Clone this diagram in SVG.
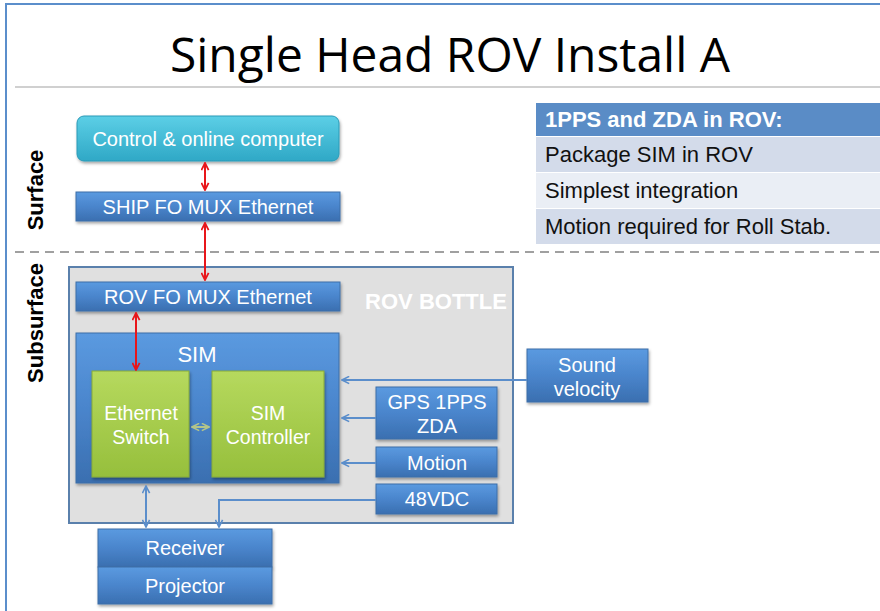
<svg xmlns="http://www.w3.org/2000/svg" width="880" height="611" viewBox="0 0 880 611">
<defs>
<linearGradient id="gBlue" x1="0" y1="0" x2="0" y2="1">
<stop offset="0" stop-color="#5b9ae0"/><stop offset="0.5" stop-color="#4a85cc"/><stop offset="1" stop-color="#3a6fb0"/>
</linearGradient>
<linearGradient id="gTeal" x1="0" y1="0" x2="0" y2="1">
<stop offset="0" stop-color="#5ccfe6"/><stop offset="1" stop-color="#2fa8c6"/>
</linearGradient>
<linearGradient id="gGreen" x1="0" y1="0" x2="0" y2="1">
<stop offset="0" stop-color="#b6d95e"/><stop offset="1" stop-color="#96bf3c"/>
</linearGradient>
<filter id="sh" x="-10%" y="-10%" width="120%" height="130%">
<feDropShadow dx="1" dy="2" stdDeviation="1.5" flood-color="#000" flood-opacity="0.35"/>
</filter>
<marker id="aRed" viewBox="0 0 10 10" refX="9" refY="5" markerWidth="9" markerHeight="9" orient="auto-start-reverse" markerUnits="userSpaceOnUse">
<path d="M1,1 L9,5 L1,9" fill="none" stroke="#e8161b" stroke-width="2"/>
</marker>
<marker id="aBlue" viewBox="0 0 10 10" refX="9" refY="5" markerWidth="9" markerHeight="9" orient="auto-start-reverse" markerUnits="userSpaceOnUse">
<path d="M1,1 L9,5 L1,9" fill="none" stroke="#5b8ecb" stroke-width="1.8"/>
</marker>
<marker id="aGreen" viewBox="0 0 10 10" refX="9" refY="5" markerWidth="9" markerHeight="9" orient="auto-start-reverse" markerUnits="userSpaceOnUse">
<path d="M1,1 L9,5 L1,9" fill="none" stroke="#b3c48a" stroke-width="1.8"/>
</marker>
</defs>
<style>
.box{fill:url(#gBlue);stroke:#3c6ea8;stroke-width:1;filter:url(#sh)}
.grn{fill:url(#gGreen);stroke:#88ab38;stroke-width:1;filter:url(#sh)}
.lbl{font-family:"Liberation Sans",Arial,sans-serif;fill:#fff;text-anchor:middle;dominant-baseline:central;font-size:20px}
.tt{font-family:"Liberation Sans",Arial,sans-serif;font-size:22px;fill:#111}
.side{font-family:"Liberation Sans",Arial,sans-serif;font-size:22px;font-weight:bold;fill:#000;text-anchor:middle;dominant-baseline:central}
.red{stroke:#e8161b;stroke-width:2;fill:none;marker-start:url(#aRed);marker-end:url(#aRed)}
.bl{stroke:#5b8ecb;stroke-width:2;fill:none}
</style>
<rect width="880" height="611" fill="#fff"/>
<path d="M6,611 V4 H880" fill="none" stroke="#5b8ecb" stroke-width="2"/>
<text x="450" y="72" font-family="'Open Sans','Noto Sans',sans-serif" font-size="48" text-anchor="middle" textLength="560" lengthAdjust="spacingAndGlyphs" fill="#000">Single Head ROV Install A</text>
<line x1="15" y1="87" x2="880" y2="87" stroke="#d0d0d0" stroke-width="2"/>
<line x1="15" y1="252" x2="880" y2="252" stroke="#a0a0a0" stroke-width="2" stroke-dasharray="9,6"/>
<text class="side" transform="translate(35,190) rotate(-90)">Surface</text>
<text class="side" transform="translate(35,323) rotate(-90)">Subsurface</text>

<g id="table">
<rect x="536" y="103" width="344" height="33" fill="#5a8cc6"/>
<text x="545" y="127" font-family="'Liberation Sans',Arial,sans-serif" font-size="22" font-weight="bold" fill="#fff">1PPS and ZDA in ROV:</text>
<rect x="536" y="137" width="344" height="35" fill="#d3dbea"/>
<text class="tt" x="545" y="162">Package SIM in ROV</text>
<rect x="536" y="173" width="344" height="35" fill="#eaeef5"/>
<text class="tt" x="545" y="198">Simplest integration</text>
<rect x="536" y="209" width="344" height="35" fill="#d3dbea"/>
<text class="tt" x="545" y="234">Motion required for Roll Stab.</text>
</g>

<g id="rov-bottle">
<rect x="69" y="267" width="444" height="256" fill="#e0e0e0" stroke="#5a80ac" stroke-width="2"/>
<text x="436" y="301" font-family="'Liberation Sans',Arial,sans-serif" font-size="22" font-weight="bold" fill="#fff" text-anchor="middle" dominant-baseline="central">ROV BOTTLE</text>
</g>

<g id="control">
<rect x="77" y="116" width="262" height="45" rx="7" fill="url(#gTeal)" stroke="#2a9bb8" filter="url(#sh)"/>
<text class="lbl" x="208" y="139">Control &amp; online computer</text>
</g>
<g id="ship-mux">
<rect class="box" x="76" y="192" width="264" height="29"/>
<text class="lbl" x="208" y="207">SHIP FO MUX Ethernet</text>
</g>
<g id="rov-mux">
<rect class="box" x="76" y="282" width="264" height="29"/>
<text class="lbl" x="208" y="297">ROV FO MUX Ethernet</text>
</g>
<g id="sim">
<rect class="box" x="76" y="333" width="263" height="150"/>
<text class="lbl" x="197" y="354" style="font-size:22px">SIM</text>
</g>
<g id="eth-switch">
<rect class="grn" x="92" y="371" width="97" height="106"/>
<text class="lbl" x="141" y="413" style="font-size:19.5px">Ethernet</text>
<text class="lbl" x="141" y="437" style="font-size:19.5px">Switch</text>
</g>
<g id="sim-controller">
<rect class="grn" x="212" y="371" width="112" height="106"/>
<text class="lbl" x="268" y="413" style="font-size:19.5px">SIM</text>
<text class="lbl" x="268" y="437" style="font-size:19.5px">Controller</text>
</g>
<g id="sound-velocity">
<rect class="box" x="527" y="349" width="121" height="53"/>
<text class="lbl" x="587" y="365">Sound</text>
<text class="lbl" x="587" y="389">velocity</text>
</g>
<g id="gps">
<rect class="box" x="376" y="387" width="121" height="52"/>
<text class="lbl" x="437" y="402">GPS 1PPS</text>
<text class="lbl" x="437" y="426">ZDA</text>
</g>
<g id="motion">
<rect class="box" x="376" y="447" width="121" height="30"/>
<text class="lbl" x="437" y="463">Motion</text>
</g>
<g id="vdc">
<rect class="box" x="376" y="484" width="121" height="30"/>
<text class="lbl" x="437" y="499">48VDC</text>
</g>
<g id="receiver">
<rect class="box" x="98" y="529" width="174" height="38"/>
<text class="lbl" x="185" y="548">Receiver</text>
</g>
<g id="projector">
<rect class="box" x="98" y="567" width="174" height="37"/>
<text class="lbl" x="185" y="586">Projector</text>
</g>

<g id="connectors">
<line class="red" x1="205" y1="163" x2="205" y2="190"/>
<line class="red" x1="205" y1="223" x2="205" y2="280"/>
<line class="red" x1="136" y1="313" x2="136" y2="370"/>
<line x1="192" y1="427" x2="209" y2="427" stroke="#b3c48a" stroke-width="2" marker-start="url(#aGreen)" marker-end="url(#aGreen)"/>
<line class="bl" x1="527" y1="380" x2="342" y2="380" marker-end="url(#aBlue)"/>
<line class="bl" x1="376" y1="418" x2="342" y2="418" marker-end="url(#aBlue)"/>
<line class="bl" x1="376" y1="463" x2="342" y2="463" marker-end="url(#aBlue)"/>
<path class="bl" d="M376,500 H219 V527" marker-end="url(#aBlue)"/>
<line class="bl" x1="146" y1="486" x2="146" y2="527" marker-start="url(#aBlue)" marker-end="url(#aBlue)"/>
</g>
</svg>
